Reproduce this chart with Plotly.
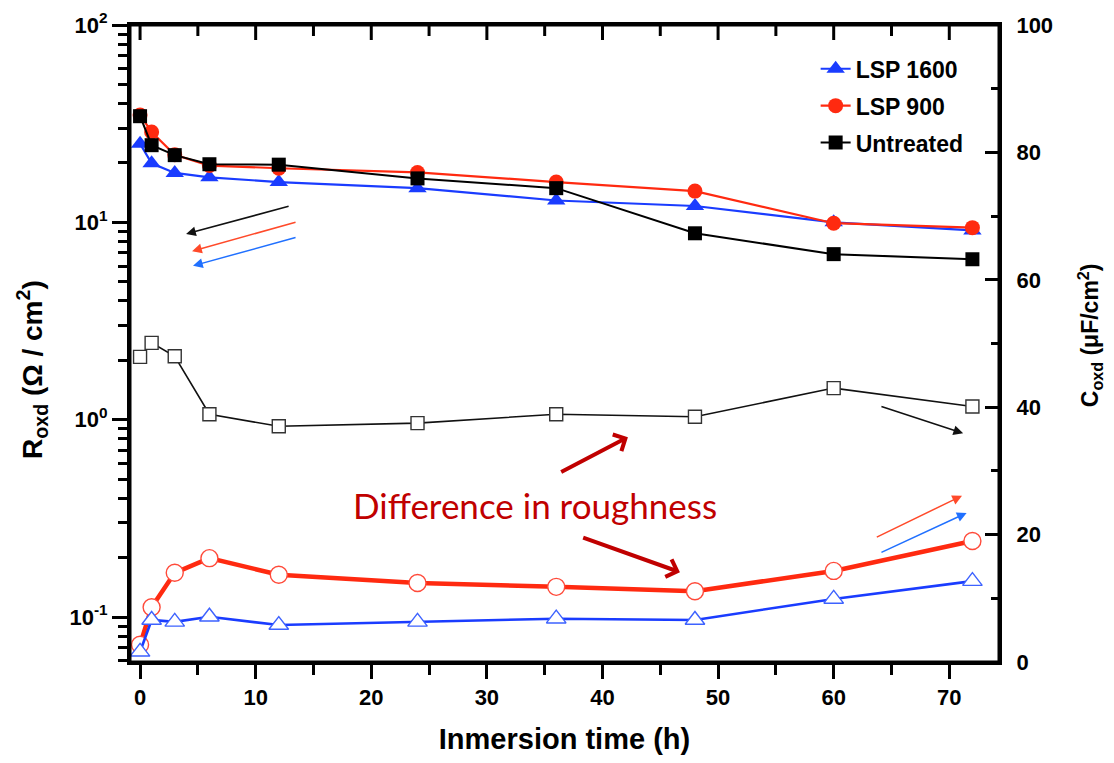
import plotly.graph_objects as go

# ---------------- data ----------------
time_h = [0, 1, 3, 6, 12, 24, 36, 48, 60, 72]

# R_oxd (left, log axis)  -- filled markers
r_lsp1600 = [25.0, 19.9, 17.8, 16.9, 16.0, 14.9, 12.9, 12.1, 10.0, 9.1]
r_lsp900 = [35.0, 28.7, 22.0, 19.4, 18.8, 17.9, 16.0, 14.4, 9.9, 9.4]
r_untreated = [34.5, 24.6, 21.9, 19.7, 19.6, 16.7, 14.9, 8.8, 6.9, 6.5]

# C_oxd (right, linear axis) -- open markers
c_lsp1600 = [1.6, 6.6, 6.3, 7.1, 5.8, 6.3, 6.8, 6.6, 9.9, 12.7]
c_lsp900 = [2.7, 8.6, 14.0, 16.3, 13.7, 12.4, 11.8, 11.1, 14.3, 19.0]
c_untreated = [47.9, 50.1, 48.0, 38.9, 37.0, 37.5, 38.9, 38.5, 43.0, 40.1]

series_names = ["LSP 1600", "LSP 900", "Untreated"]
x_tickvals = [0, 10, 20, 30, 40, 50, 60, 70]
x_minor = [5, 15, 25, 35, 45, 55, 65]
left_tickvals = [0.1, 1, 10, 100]
left_ticktext = ["10<sup>-1</sup>", "10<sup>0</sup>", "10<sup>1</sup>", "10<sup>2</sup>"]
left_minor = [0.06, 0.07, 0.08, 0.09,
              0.2, 0.3, 0.4, 0.5, 0.6, 0.7, 0.8, 0.9,
              2, 3, 4, 5, 6, 7, 8, 9,
              20, 30, 40, 50, 60, 70, 80, 90]
right_tickvals = [0, 20, 40, 60, 80, 100]
right_minor = [10, 30, 50, 70, 90]

BLUE = "#1a3cff"
RED = "#ff2a10"
BLACK = "#000000"
FONT = "Liberation Sans"

fig = go.Figure()

# ---- C_oxd open-marker series (right axis) ----
fig.add_trace(go.Scatter(
    x=time_h, y=c_untreated, yaxis="y2", mode="lines+markers", showlegend=False,
    line=dict(color="#111111", width=1.6),
    marker=dict(symbol="square", size=13, color="white", line=dict(color="#333333", width=1.4)),
))
fig.add_trace(go.Scatter(
    x=time_h, y=c_lsp900, yaxis="y2", mode="lines+markers", showlegend=False,
    line=dict(color=RED, width=4.5),
    marker=dict(symbol="circle", size=17, color="white", line=dict(color="#ff4a3a", width=1.4)),
))
fig.add_trace(go.Scatter(
    x=time_h, y=c_lsp1600, yaxis="y2", mode="lines+markers", showlegend=False,
    line=dict(color=BLUE, width=2.6),
    marker=dict(symbol="triangle-up", size=17, color="white", line=dict(color="#3d62ff", width=1.4)),
))

# ---- R_oxd filled-marker series (left log axis) ----
fig.add_trace(go.Scatter(
    x=time_h, y=r_lsp1600, yaxis="y", mode="lines+markers", name=series_names[0],
    legendgroup="a",
    line=dict(color=BLUE, width=2.2),
    marker=dict(symbol="triangle-up", size=16, color=BLUE),
))
fig.add_trace(go.Scatter(
    x=time_h, y=r_lsp900, yaxis="y", mode="lines+markers", name=series_names[1],
    legendgroup="b",
    line=dict(color=RED, width=2.2),
    marker=dict(symbol="circle", size=15, color=RED),
))
fig.add_trace(go.Scatter(
    x=time_h, y=r_untreated, yaxis="y", mode="lines+markers", name=series_names[2],
    legendgroup="c",
    line=dict(color=BLACK, width=2.0),
    marker=dict(symbol="square", size=14, color=BLACK),
))

tickfont = dict(family=FONT, size=22, color="black", weight="bold")
xr = [-0.87, 74.3]
plot_h = 763 - 25 - 101

fig.update_layout(
    width=1114, height=763,
    margin=dict(l=130, r=115, t=25, b=101, autoexpand=False),
    paper_bgcolor="white", plot_bgcolor="white",
    xaxis=dict(
        range=xr, tickvals=x_tickvals, mirror=True,
        ticks="outside", ticklen=14, tickwidth=3, tickcolor="black",
        minor=dict(tickvals=x_minor, ticks="outside", ticklen=10, tickwidth=3, tickcolor="black"),
        showline=True, linewidth=3, linecolor="black", showgrid=False, zeroline=False,
        tickfont=tickfont,
        title=dict(text="Inmersion time (h)", font=dict(family=FONT, size=29, color="black", weight="bold"),
                   standoff=20),
    ),
    yaxis=dict(
        type="log", range=[-1.228, 2.0],
        tickvals=left_tickvals, ticktext=left_ticktext,
        ticks="outside", ticklen=15, tickwidth=3, tickcolor="black",
        minor=dict(tickvals=left_minor, ticks="outside", ticklen=9, tickwidth=3, tickcolor="black"),
        showline=True, linewidth=3, linecolor="black", showgrid=False, zeroline=False,
        tickfont=tickfont,
    ),
    yaxis2=dict(
        overlaying="y", side="right", range=[0, 100],
        tickvals=right_tickvals,
        ticks="inside", ticklen=14, tickwidth=3, tickcolor="black",
        minor=dict(tickvals=right_minor, ticks="inside", ticklen=8, tickwidth=3, tickcolor="black"),
        showline=True, linewidth=3, linecolor="black", showgrid=False, zeroline=False,
        tickfont=tickfont, ticklabelstandoff=10,
    ),
    legend=dict(
        x=0.789, y=0.965, xanchor="left", yanchor="top",
        bgcolor="rgba(0,0,0,0)", font=dict(family=FONT, size=23, color="black", weight="bold"),
        tracegroupgap=4,
    ),
    showlegend=True,
)

# ---- frame + inward ticks on the top x axis ----
fig.add_shape(type="rect", xref="paper", yref="paper", x0=0, x1=1, y0=0, y1=1,
              line=dict(color="black", width=3), fillcolor="rgba(0,0,0,0)", layer="above")
for tv in x_tickvals:
    fig.add_shape(type="line", xref="x", yref="paper", x0=tv, x1=tv, y0=1, y1=1 - 15 / plot_h,
                  line=dict(color="black", width=3), layer="above")
for tv in x_minor:
    fig.add_shape(type="line", xref="x", yref="paper", x0=tv, x1=tv, y0=1, y1=1 - 11 / plot_h,
                  line=dict(color="black", width=3), layer="above")

# ---- axis titles as rotated annotations ----
fig.add_annotation(
    x=-0.1128, y=0.46, xref="paper", yref="paper", xanchor="center", yanchor="middle",
    textangle=-90, showarrow=False,
    text="R<sub>oxd</sub> (Ω / cm<sup>2</sup>)",
    font=dict(family=FONT, size=28, color="black", weight="bold"),
)
fig.add_annotation(
    x=1.1047, y=0.513, xref="paper", yref="paper", xanchor="center", yanchor="middle",
    textangle=-90, showarrow=False,
    text="C<sub>oxd</sub> (μF/cm<sup>2</sup>)",
    font=dict(family=FONT, size=23, color="black", weight="bold"),
)

# ---- arrows (annotations in data coordinates of x / y2) ----
arrows = [
    # (x_head, y_head, x_tail, y_tail, color, width, head)
    (3.98, 67.2, 12.98, 71.6, "#111111", 1.5, 2),
    (4.50, 64.5, 13.58, 69.1, "#ff4a2a", 1.5, 2),
    (4.58, 62.2, 13.58, 66.7, "#2070ff", 1.5, 2),
    (71.2, 35.9, 64.0, 40.2, "#111111", 1.5, 2),
    (71.1, 26.1, 63.6, 19.5, "#ff4a2a", 1.5, 2),
    (71.5, 23.4, 64.0, 17.1, "#2070ff", 1.5, 2),
    (42.2, 35.3, 36.3, 29.7, "#c00000", 4, 4),
    (46.7, 14.1, 38.2, 19.6, "#c00000", 4, 4),
]
for xh, yh, xt, yt, col, w, hd in arrows:
    fig.add_annotation(
        x=xh, y=yh, ax=xt, ay=yt, xref="x", yref="y2", axref="x", ayref="y2",
        text="", showarrow=True, arrowhead=hd, arrowsize=1.3 if hd == 2 else 0.9,
        arrowwidth=w, arrowcolor=col, standoff=0, startstandoff=0,
    )

fig.add_annotation(
    x=34.2, y=24.6, xref="x", yref="y2", text="Difference in roughness",
    showarrow=False, font=dict(family="Lato", size=35, color="#c00000"),
)

fig.write_html("out.html")
